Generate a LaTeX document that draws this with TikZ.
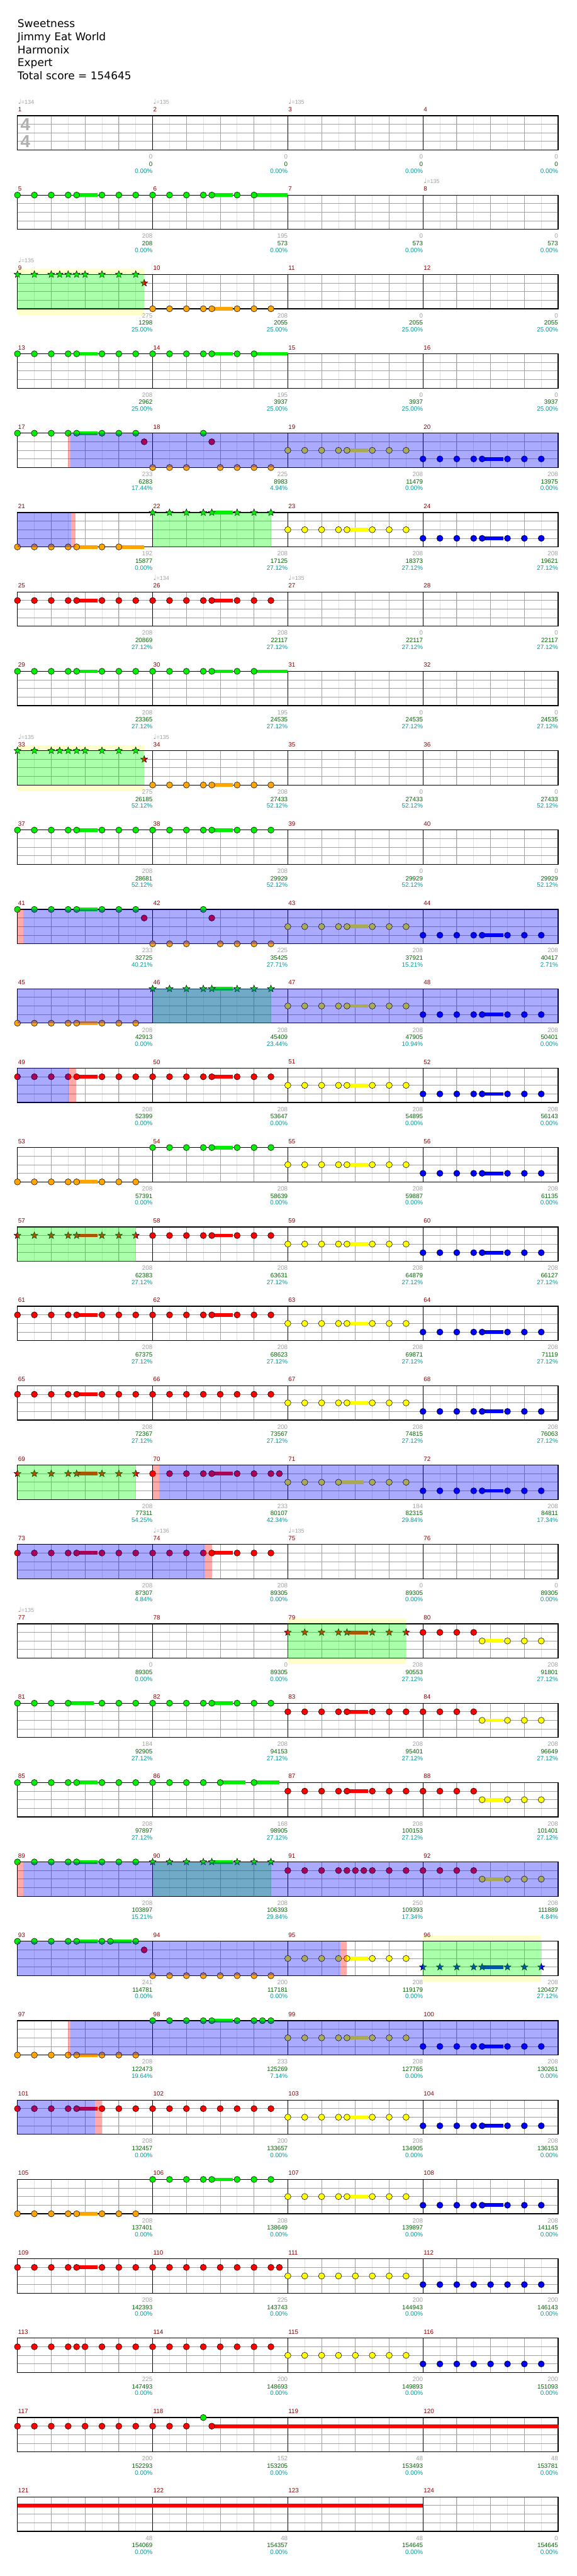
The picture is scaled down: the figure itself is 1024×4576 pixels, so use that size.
\documentclass[tikz,border=0pt]{standalone}
\usepackage{fontspec}
\setmainfont{DejaVu Sans}
\newfontfamily\lblfont{Liberation Sans}
\newfontfamily\notefont{DejaVu Sans}
\usepackage{tikz}
\definecolor{gemgreen}{RGB}{0,238,0}
\definecolor{gemred}{RGB}{255,0,0}
\definecolor{gemyellow}{RGB}{255,255,0}
\definecolor{gemblue}{RGB}{0,0,255}
\definecolor{gemorange}{RGB}{255,165,0}
\definecolor{spgreen}{RGB}{0,255,0}
\definecolor{barred}{RGB}{139,0,0}
\definecolor{ptsgray}{RGB}{160,160,160}
\definecolor{rungreen}{RGB}{0,100,0}
\definecolor{pctteal}{RGB}{0,153,153}
\definecolor{lightline}{RGB}{224,224,224}
\definecolor{midline}{RGB}{160,160,160}
\definecolor{bandyellow}{RGB}{255,255,204}
\definecolor{siggray}{RGB}{176,176,176}

\tikzset{
  gem/.style={draw=black, line width=0.6pt},
  eighthline/.style={lightline, line width=0.8pt},
  beatline/.style={midline, line width=1pt},
  laneline/.style={midline, line width=1pt},
  barline/.style={black, line width=1pt},
  chartframe/.style={black, line width=1.4pt},
  barnum/.style={anchor=west, inner sep=0pt, text=barred, font=\lblfont\fontsize{11}{11}\selectfont},
  barpts/.style={anchor=east, inner sep=0pt, text=ptsgray, font=\lblfont\fontsize{11}{11}\selectfont},
  runpts/.style={anchor=east, inner sep=0pt, text=rungreen, font=\lblfont\fontsize{11}{11}\selectfont},
  odpct/.style={anchor=east, inner sep=0pt, text=pctteal, font=\lblfont\fontsize{11}{11}\selectfont},
  tempomark/.style={anchor=west, inner sep=0pt, text=ptsgray, font=\lblfont\fontsize{10}{10}\selectfont},
  songline/.style={anchor=base west, inner sep=0pt, font=\fontsize{19}{19}\selectfont},
  sig/.style={inner sep=0pt, text=siggray, font=\lblfont\bfseries\fontsize{31}{31}\selectfont},
  odfill/.style={fill=gemblue, fill opacity=0.333},
  spfill/.style={fill=spgreen, fill opacity=0.333},
  actfill/.style={fill=gemred, fill opacity=0.333},
  chartrow/.style={shift={(0,{205.5+141*#1})}},
}

% grid of one line of four bars, #1 = first bar number
\newcommand{\chartgrid}[1]{%
  \fill[white] (31,0) rectangle (991,61);
  \foreach \i in {1,...,31} \draw[eighthline] ({31+30*\i},0) -- ++(0,61);
  \foreach \i in {2,4,...,30} \draw[beatline] ({31+30*\i},0) -- ++(0,61);
  \foreach \l in {1,2,3} \draw[laneline] (31,{15.25*\l}) -- (991,{15.25*\l});
  \foreach \i in {8,16,24} \draw[barline] ({31+30*\i},0) -- ++(0,61);
  \draw[chartframe] (31,0) rectangle (991,61);
  \foreach \k in {0,...,3} {\pgfmathtruncatemacro\mno{#1+\k}\node[barnum] at({32+240*\k},-11)(bar\mno){\mno};}
}
% gems: bar slot, lane, colour, eighths
\newcommand{\gems}[4]{\foreach \tm in {#4} \draw[gem,fill=#3] ({31+240*#1+30*\tm},{15.25*#2}) circle (5.5pt);}
\newcommand{\stars}[4]{\foreach \tm in {#4} \draw[gem,fill=#3] ({31+240*#1+30*\tm},{15.25*#2})
  +(90:6.5pt) -- +(126:2.8pt) -- +(162:6.5pt) -- +(198:2.8pt) -- +(234:6.5pt) -- +(270:2.8pt)
  -- +(306:6.5pt) -- +(342:2.8pt) -- +(18:6.5pt) -- +(54:2.8pt) -- cycle;}
\newcommand{\tail}[5]{\fill[#3] ({31+240*#1+30*#4},{15.25*#2-3.25}) rectangle ({31+240*#1+30*#5},{15.25*#2+3.25});}
\newcommand{\riffA}[3]{\tail{#1}{#2}{#3}{3.5}{4.75}\gems{#1}{#2}{#3}{0,1,2,3,3.5,5,6,7}}
\newcommand{\riffB}[3]{\tail{#1}{#2}{#3}{3.5}{4.75}\tail{#1}{#2}{#3}{6}{8}\gems{#1}{#2}{#3}{0,1,2,3,3.5,5,6}}
\newcommand{\starA}[3]{\tail{#1}{#2}{#3}{3.5}{4.75}\stars{#1}{#2}{#3}{0,1,2,3,3.5,5,6,7}}
\newcommand{\redtoyellow}[1]{\gems{#1}{1}{gemred}{0,1,2,3}\tail{#1}{2}{gemyellow}{3.5}{4.75}\gems{#1}{2}{gemyellow}{3.5,5,6,7}}
% zones in eighths from the start of the line
\newcommand{\odzone}[2]{\fill[odfill] ({31+30*#1},0) rectangle ({31+30*#2},61);}
\newcommand{\spzone}[2]{\fill[spfill] ({31+30*#1},0) rectangle ({31+30*#2},61);}
\newcommand{\actzone}[2]{\fill[actfill] ({31+30*#1},0) rectangle ({31+30*#2},61);}
\newcommand{\band}[2]{\fill[bandyellow] ({31+30*#1},-10) rectangle ({31+30*#2},72);}
% scores under the bars, #1 = first bar number
\newcommand{\scores}[2]{\foreach \ptsv/\runv/\pctv [count=\k from 0] in {#2} {%
  \pgfmathtruncatemacro\mno{#1+\k}
  \node[barpts] at({271+240*\k},73)(pts\mno){\ptsv};
  \node[runpts] at({271+240*\k},86)(run\mno){\runv};
  \node[odpct] at({271+240*\k},98)(pct\mno){\pctv\%};}}
\newcommand{\tempo}[3]{\node[tempomark] at({32+240*#1},-25)(bpm#2){{\notefont\fontsize{12}{12}\selectfont ♩}=#3};}

\begin{document}
\begin{tikzpicture}[x=1pt, y=-1pt]
    \useasboundingbox (0,0) rectangle (1024,4576);
    \node[songline] at(31,49)(song){Sweetness};
    \node[songline] at(31,72)(artist){Jimmy Eat World};
    \node[songline] at(31,95)(charter){Harmonix};
    \node[songline] at(31,118)(level){Expert};
    \node[songline] at(31,141)(total){Total score = 154645};
    % 1-4
    \begin{scope}[chartrow=0]
    \chartgrid{1}
    \node[sig] at(45,16)(sigtop){4};
    \node[sig] at(45,46)(sigbot){4};
    \tempo{0}{1}{134}\tempo{1}{2}{135}\tempo{2}{3}{135}
    \scores{1}{0/0/0.00,0/0/0.00,0/0/0.00,0/0/0.00}
    \end{scope}
    % 5-8
    \begin{scope}[chartrow=1]
    \chartgrid{5}
    \riffA{0}{0}{gemgreen}\riffB{1}{0}{gemgreen}
    \tempo{3}{8}{135}
    \scores{5}{208/208/0.00,195/573/0.00,0/573/0.00,0/573/0.00}
    \end{scope}
    % 9-12
    \begin{scope}[chartrow=2]
    \band{0}{7.5}
    \chartgrid{9}
    \stars{0}{0}{gemgreen}{0,1,2,2.5,3,3.5,4,5,6,7}\stars{0}{1}{gemred}{7.5}
    \riffA{1}{4}{gemorange}
    \spzone{0}{7.5}
    \tempo{0}{9}{135}
    \scores{9}{275/1298/25.00,208/2055/25.00,0/2055/25.00,0/2055/25.00}
    \end{scope}
    % 13-16
    \begin{scope}[chartrow=3]
    \chartgrid{13}
    \riffA{0}{0}{gemgreen}\riffB{1}{0}{gemgreen}
    \scores{13}{208/2962/25.00,195/3937/25.00,0/3937/25.00,0/3937/25.00}
    \end{scope}
    % 17-20
    \begin{scope}[chartrow=4]
    \chartgrid{17}
    \riffA{0}{0}{gemgreen}\gems{0}{1}{gemred}{7.5}
    \gems{1}{0}{gemgreen}{3}\gems{1}{1}{gemred}{3.5}\gems{1}{4}{gemorange}{0,1,2,4,5,6,7}
    \riffA{2}{2}{gemyellow}\riffA{3}{3}{gemblue}
    \actzone{3}{3.15}\odzone{3.15}{32}
    \scores{17}{233/6283/17.44,225/8983/4.94,208/11479/0.00,208/13975/0.00}
    \end{scope}
    % 21-24
    \begin{scope}[chartrow=5]
    \chartgrid{21}
    \tail{0}{4}{gemorange}{3.5}{4.75}\tail{0}{4}{gemorange}{6}{7.5}\gems{0}{4}{gemorange}{0,1,2,3,3.5,5,6}
    \starA{1}{0}{gemgreen}
    \riffA{2}{2}{gemyellow}\riffA{3}{3}{gemblue}
    \odzone{0}{3.17}\actzone{3.17}{3.45}\spzone{8}{15}
    \scores{21}{192/15877/0.00,208/17125/27.12,208/18373/27.12,208/19621/27.12}
    \end{scope}
    % 25-28
    \begin{scope}[chartrow=6]
    \chartgrid{25}
    \riffA{0}{1}{gemred}\riffA{1}{1}{gemred}
    \tempo{1}{26}{134}\tempo{2}{27}{135}
    \scores{25}{208/20869/27.12,208/22117/27.12,0/22117/27.12,0/22117/27.12}
    \end{scope}
    % 29-32
    \begin{scope}[chartrow=7]
    \chartgrid{29}
    \riffA{0}{0}{gemgreen}\riffB{1}{0}{gemgreen}
    \scores{29}{208/23365/27.12,195/24535/27.12,0/24535/27.12,0/24535/27.12}
    \end{scope}
    % 33-36
    \begin{scope}[chartrow=8]
    \band{0}{7.5}
    \chartgrid{33}
    \stars{0}{0}{gemgreen}{0,1,2,2.5,3,3.5,4,5,6,7}\stars{0}{1}{gemred}{7.5}
    \riffA{1}{4}{gemorange}
    \spzone{0}{7.5}
    \tempo{0}{33}{135}\tempo{1}{34}{135}
    \scores{33}{275/26185/52.12,208/27433/52.12,0/27433/52.12,0/27433/52.12}
    \end{scope}
    % 37-40
    \begin{scope}[chartrow=9]
    \chartgrid{37}
    \riffA{0}{0}{gemgreen}\riffA{1}{0}{gemgreen}
    \scores{37}{208/28681/52.12,208/29929/52.12,0/29929/52.12,0/29929/52.12}
    \end{scope}
    % 41-44
    \begin{scope}[chartrow=10]
    \chartgrid{41}
    \riffA{0}{0}{gemgreen}\gems{0}{1}{gemred}{7.5}
    \gems{1}{0}{gemgreen}{3}\gems{1}{1}{gemred}{3.5}\gems{1}{4}{gemorange}{0,1,2,4,5,6,7}
    \riffA{2}{2}{gemyellow}\riffA{3}{3}{gemblue}
    \actzone{0}{0.35}\odzone{0.35}{32}
    \scores{41}{233/32725/40.21,225/35425/27.71,208/37921/15.21,208/40417/2.71}
    \end{scope}
    % 45-48
    \begin{scope}[chartrow=11]
    \chartgrid{45}
    \riffA{0}{4}{gemorange}\starA{1}{0}{gemgreen}\riffA{2}{2}{gemyellow}\riffA{3}{3}{gemblue}
    \spzone{8}{15}\odzone{0}{32}
    \scores{45}{208/42913/0.00,208/45409/23.44,208/47905/10.94,208/50401/0.00}
    \end{scope}
    % 49-52
    \begin{scope}[chartrow=12]
    \chartgrid{49}
    \riffA{0}{1}{gemred}\riffA{1}{1}{gemred}\riffA{2}{2}{gemyellow}\riffA{3}{3}{gemblue}
    \odzone{0}{3.05}\actzone{3.05}{3.47}
    \scores{49}{208/52399/0.00,208/53647/0.00,208/54895/0.00,208/56143/0.00}
    \end{scope}
    % 53-56
    \begin{scope}[chartrow=13]
    \chartgrid{53}
    \riffA{0}{4}{gemorange}\riffA{1}{0}{gemgreen}\riffA{2}{2}{gemyellow}\riffA{3}{3}{gemblue}
    \scores{53}{208/57391/0.00,208/58639/0.00,208/59887/0.00,208/61135/0.00}
    \end{scope}
    % 57-60
    \begin{scope}[chartrow=14]
    \chartgrid{57}
    \starA{0}{1}{gemred}\riffA{1}{1}{gemred}\riffA{2}{2}{gemyellow}\riffA{3}{3}{gemblue}
    \spzone{0}{7}
    \scores{57}{208/62383/27.12,208/63631/27.12,208/64879/27.12,208/66127/27.12}
    \end{scope}
    % 61-64
    \begin{scope}[chartrow=15]
    \chartgrid{61}
    \riffA{0}{1}{gemred}\riffA{1}{1}{gemred}\riffA{2}{2}{gemyellow}\riffA{3}{3}{gemblue}
    \scores{61}{208/67375/27.12,208/68623/27.12,208/69871/27.12,208/71119/27.12}
    \end{scope}
    % 65-68
    \begin{scope}[chartrow=16]
    \chartgrid{65}
    \riffA{0}{1}{gemred}\gems{1}{1}{gemred}{0,...,7}\riffA{2}{2}{gemyellow}\riffA{3}{3}{gemblue}
    \scores{65}{208/72367/27.12,200/73567/27.12,208/74815/27.12,208/76063/27.12}
    \end{scope}
    % 69-72
    \begin{scope}[chartrow=17]
    \chartgrid{69}
    \starA{0}{1}{gemred}
    \tail{1}{1}{gemred}{3.5}{4.75}\gems{1}{1}{gemred}{0,1,2,3,3.5,5,6,7,7.5}
    \tail{2}{2}{gemyellow}{3}{4.5}\gems{2}{2}{gemyellow}{0,1,2,3,5,6,7}
    \riffA{3}{3}{gemblue}
    \spzone{0}{7}\actzone{8}{8.37}\odzone{8.37}{32}
    \scores{69}{208/77311/54.25,233/80107/42.34,184/82315/29.84,208/84811/17.34}
    \end{scope}
    % 73-76
    \begin{scope}[chartrow=18]
    \chartgrid{73}
    \riffA{0}{1}{gemred}\riffA{1}{1}{gemred}
    \odzone{0}{11.1}\actzone{11.1}{11.5}
    \tempo{1}{74}{136}\tempo{2}{75}{135}
    \scores{73}{208/87307/4.84,208/89305/0.00,0/89305/0.00,0/89305/0.00}
    \end{scope}
    % 77-80
    \begin{scope}[chartrow=19]
    \band{16}{23}
    \chartgrid{77}
    \starA{2}{1}{gemred}\redtoyellow{3}
    \spzone{16}{23}
    \tempo{0}{77}{135}
    \scores{77}{0/89305/0.00,0/89305/0.00,208/90553/27.12,208/91801/27.12}
    \end{scope}
    % 81-84
    \begin{scope}[chartrow=20]
    \chartgrid{81}
    \tail{0}{0}{gemgreen}{3}{4.5}\gems{0}{0}{gemgreen}{0,1,2,3,5,6,7}
    \riffA{1}{0}{gemgreen}\riffA{2}{1}{gemred}\redtoyellow{3}
    \scores{81}{184/92905/27.12,208/94153/27.12,208/95401/27.12,208/96649/27.12}
    \end{scope}
    % 85-88
    \begin{scope}[chartrow=21]
    \chartgrid{85}
    \riffA{0}{0}{gemgreen}
    \tail{1}{0}{gemgreen}{4}{5.5}\tail{1}{0}{gemgreen}{6}{7.5}\gems{1}{0}{gemgreen}{0,1,2,3,4,6}
    \riffA{2}{1}{gemred}\redtoyellow{3}
    \scores{85}{208/97897/27.12,168/98905/27.12,208/100153/27.12,208/101401/27.12}
    \end{scope}
    % 89-92
    \begin{scope}[chartrow=22]
    \chartgrid{89}
    \riffA{0}{0}{gemgreen}\starA{1}{0}{gemgreen}
    \gems{2}{1}{gemred}{0,1,2,3,3.5,4,4.5,5,6,7}\redtoyellow{3}
    \spzone{8}{15}\actzone{0}{0.35}\odzone{0.35}{32}
    \scores{89}{208/103897/15.21,208/106393/29.84,250/109393/17.34,208/111889/4.84}
    \end{scope}
    % 93-96
    \begin{scope}[chartrow=23]
    \band{24}{31}
    \chartgrid{93}
    \tail{0}{0}{gemgreen}{3.5}{4.75}\tail{0}{0}{gemgreen}{5.5}{6.75}\gems{0}{0}{gemgreen}{0,1,2,3,3.5,5,5.5,7}
    \gems{0}{1}{gemred}{7.5}
    \gems{1}{4}{gemorange}{0,...,7}\riffA{2}{2}{gemyellow}\starA{3}{3}{gemblue}
    \odzone{0}{19.1}\actzone{19.1}{19.5}\spzone{24}{31}
    \scores{93}{241/114781/0.00,200/117181/0.00,208/119179/0.00,208/120427/27.12}
    \end{scope}
    % 97-100
    \begin{scope}[chartrow=24]
    \chartgrid{97}
    \riffA{0}{4}{gemorange}
    \tail{1}{0}{gemgreen}{3.5}{4.75}\gems{1}{0}{gemgreen}{0,1,2,3,3.5,5,6,6.5,7}
    \riffA{2}{2}{gemyellow}\riffA{3}{3}{gemblue}
    \actzone{3}{3.15}\odzone{3.15}{32}
    \scores{97}{208/122473/19.64,233/125269/7.14,208/127765/0.00,208/130261/0.00}
    \end{scope}
    % 101-104
    \begin{scope}[chartrow=25]
    \chartgrid{101}
    \riffA{0}{1}{gemred}\gems{1}{1}{gemred}{0,...,7}\riffA{2}{2}{gemyellow}\riffA{3}{3}{gemblue}
    \odzone{0}{4.58}\actzone{4.58}{5}
    \scores{101}{208/132457/0.00,200/133657/0.00,208/134905/0.00,208/136153/0.00}
    \end{scope}
    % 105-108
    \begin{scope}[chartrow=26]
    \chartgrid{105}
    \riffA{0}{4}{gemorange}\riffA{1}{0}{gemgreen}\riffA{2}{2}{gemyellow}\riffA{3}{3}{gemblue}
    \scores{105}{208/137401/0.00,208/138649/0.00,208/139897/0.00,208/141145/0.00}
    \end{scope}
    % 109-112
    \begin{scope}[chartrow=27]
    \chartgrid{109}
    \riffA{0}{1}{gemred}\gems{1}{1}{gemred}{0,1,2,3,4,5,6,7,7.5}
    \gems{2}{2}{gemyellow}{0,...,7}\gems{3}{3}{gemblue}{0,...,7}
    \scores{109}{208/142393/0.00,225/143743/0.00,200/144943/0.00,200/146143/0.00}
    \end{scope}
    % 113-116
    \begin{scope}[chartrow=28]
    \chartgrid{113}
    \gems{0}{1}{gemred}{0,1,2,3,3.5,4,5,6,7}\gems{1}{1}{gemred}{0,...,7}
    \gems{2}{2}{gemyellow}{0,...,7}\gems{3}{3}{gemblue}{0,...,7}
    \scores{113}{225/147493/0.00,200/148693/0.00,200/149893/0.00,200/151093/0.00}
    \end{scope}
    % 117-120
    \begin{scope}[chartrow=29]
    \chartgrid{117}
    \gems{0}{1}{gemred}{0,...,7}
    \tail{1}{1}{gemred}{3.5}{24}\gems{1}{1}{gemred}{0,1,2,3.5}\gems{1}{0}{gemgreen}{3}
    \scores{117}{200/152293/0.00,152/153205/0.00,48/153493/0.00,48/153781/0.00}
    \end{scope}
    % 121-124
    \begin{scope}[chartrow=30]
    \chartgrid{121}
    \tail{0}{1}{gemred}{0}{24}
    \scores{121}{48/154069/0.00,48/154357/0.00,48/154645/0.00,0/154645/0.00}
    \end{scope}
\end{tikzpicture}
\end{document}
